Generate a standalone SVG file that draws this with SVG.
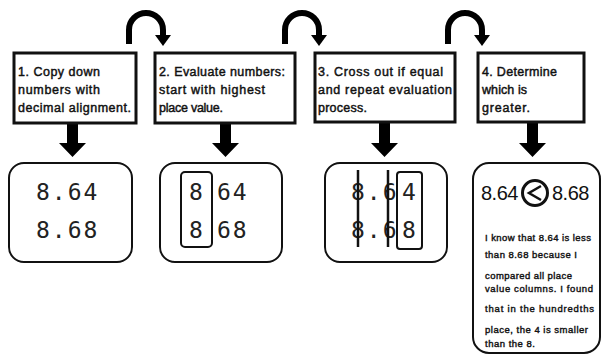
<svg xmlns="http://www.w3.org/2000/svg" width="603" height="357" viewBox="0 0 603 357">
<defs>
<style>
.step{fill:#fff;stroke:#111;stroke-width:3}
.res{fill:#fff;stroke:#111;stroke-width:2}
.lbl{font-family:"Liberation Sans","DejaVu Sans",sans-serif;font-size:12.5px;fill:#111;stroke:#111;stroke-width:0.45}
.num{font-family:"DejaVu Sans Mono","Liberation Mono",monospace;font-size:23px;fill:#222;letter-spacing:2px}
.arch{fill:none;stroke:#000;stroke-width:6}
.small{font-family:"Liberation Sans","DejaVu Sans",sans-serif;font-size:9.5px;fill:#111;stroke:#111;stroke-width:0.4}
.big{font-family:"Liberation Sans","DejaVu Sans",sans-serif;font-size:20px;fill:#111;letter-spacing:-0.5px}
</style>
</defs>
<rect width="603" height="357" fill="#fff"/>
<g id="connectors">
<path class="arch" d="M129,44 V30 A17,17 0 0 1 163,30 V36"/>
<polygon points="155,35 171,35 163,46" fill="#000"/>
<path class="arch" d="M285,44 V30 A17,17 0 0 1 319,30 V36"/>
<polygon points="311,35 327,35 319,46" fill="#000"/>
<path class="arch" d="M448,44 V30 A17,17 0 0 1 482,30 V36"/>
<polygon points="474,35 490,35 482,46" fill="#000"/>
<path d="M67,123 H78 V143 H86 L72.5,157 L59,143 H67 Z" fill="#000"/>
<path d="M220,123 H231 V143 H239 L225.5,157 L212,143 H220 Z" fill="#000"/>
<path d="M379,123 H390 V143 H398 L384.5,157 L371,143 H379 Z" fill="#000"/>
<path d="M527,123 H538 V143 H546 L532.5,157 L519,143 H527 Z" fill="#000"/>
</g>
<g id="step1">
<rect class="step" x="14" y="53" width="122" height="70"/>
<text class="lbl" x="18" y="76" textLength="82">1. Copy down</text>
<text class="lbl" x="18" y="94" textLength="82">numbers with</text>
<text class="lbl" x="18" y="112" textLength="113">decimal alignment.</text>
</g>
<g id="step2">
<rect class="step" x="155" y="53" width="140" height="70"/>
<text class="lbl" x="159" y="76" textLength="126">2. Evaluate numbers:</text>
<text class="lbl" x="159" y="94" textLength="106">start with highest</text>
<text class="lbl" x="159" y="112" textLength="64">place value.</text>
</g>
<g id="step3">
<rect class="step" x="315" y="53" width="140" height="69"/>
<text class="lbl" x="318" y="76" textLength="125">3. Cross out if equal</text>
<text class="lbl" x="318" y="94" textLength="134">and repeat evaluation</text>
<text class="lbl" x="318" y="112" textLength="49">process.</text>
</g>
<g id="step4">
<rect class="step" x="478" y="53" width="106" height="69"/>
<text class="lbl" x="482" y="76" textLength="75">4. Determine</text>
<text class="lbl" x="482" y="94" textLength="45">which is</text>
<text class="lbl" x="482" y="112" textLength="48">greater.</text>
</g>
<g id="result1">
<rect class="res" x="9" y="163" width="123" height="99" rx="15"/>
<text class="num" x="36" y="200">8.64</text>
<text class="num" x="36" y="238">8.68</text>
</g>
<g id="result2">
<rect class="res" x="160" y="163" width="122" height="99" rx="15"/>
<rect x="181" y="172" width="31" height="75" rx="4" fill="none" stroke="#111" stroke-width="2"/>
<text class="num" x="189" y="200">8</text>
<text class="num" x="217" y="200">64</text>
<text class="num" x="189" y="238">8</text>
<text class="num" x="217" y="238">68</text>
</g>
<g id="result3">
<rect class="res" x="325" y="163" width="122" height="99" rx="15"/>
<rect x="397" y="172" width="25" height="77" rx="3" fill="none" stroke="#111" stroke-width="2"/>
<text class="num" x="351" y="200" letter-spacing="3">8.6</text>
<text class="num" x="410" y="200" text-anchor="middle" letter-spacing="0">4</text>
<text class="num" x="351" y="238" letter-spacing="3">8.6</text>
<text class="num" x="410" y="238" text-anchor="middle" letter-spacing="0">8</text>
<line x1="358" y1="170" x2="358" y2="247" stroke="#111" stroke-width="2.5"/>
<line x1="388" y1="170" x2="388" y2="247" stroke="#111" stroke-width="2.5"/>
</g>
<g id="result4">
<rect class="res" x="473" y="163" width="127" height="190" rx="16"/>
<text class="big" x="481" y="200">8.64</text>
<circle cx="535" cy="193" r="12.5" fill="none" stroke="#111" stroke-width="3"/>
<polyline points="541,186 529,193 541,200" fill="none" stroke="#111" stroke-width="2.5"/>
<text class="big" x="552" y="200">8.68</text>
<text class="small" x="485" y="241" textLength="106">I know that 8.64 is less</text>
<text class="small" x="485" y="258" textLength="92">than 8.68 because I</text>
<text class="small" x="485" y="279" textLength="87">compared all place</text>
<text class="small" x="485" y="292" textLength="108">value columns. I found</text>
<text class="small" x="485" y="312" textLength="109">that in the hundredths</text>
<text class="small" x="485" y="333" textLength="103">place, the 4 is smaller</text>
<text class="small" x="485" y="347" textLength="50">than the 8.</text>
</g>
</svg>
